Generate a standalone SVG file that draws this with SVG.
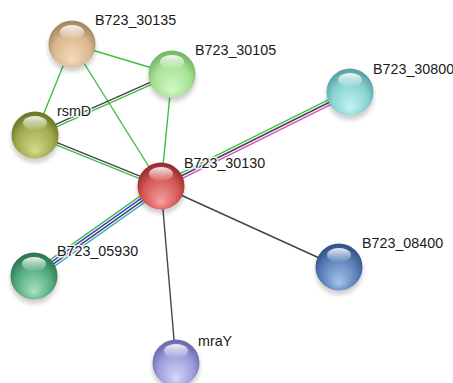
<svg xmlns="http://www.w3.org/2000/svg" width="453" height="383" viewBox="0 0 453 383">
<style>
.e{fill:none;stroke-width:1.4}
.g{stroke:#3fbf45}
.k{stroke:#454545}
.m{stroke:#d24ad2}
.b{stroke:#3a3ad8}
.c{stroke:#3fb0d0}
.lbl{font-family:"Liberation Sans",Arial,sans-serif;font-size:14.3px;fill:#1a1a1a;stroke:#ffffff;stroke-width:3;stroke-opacity:0.85;paint-order:stroke;stroke-linejoin:round}
.hl{fill:url(#hl)}
.sh{fill:#000;opacity:0.18;filter:url(#blur)}
</style>
<defs>
<filter id="blur" x="-50%" y="-50%" width="200%" height="200%"><feGaussianBlur stdDeviation="2"/></filter>
<linearGradient id="hl" x1="0" y1="0" x2="0" y2="1">
<stop offset="0" stop-color="#fff" stop-opacity="0.9"/>
<stop offset="1" stop-color="#fff" stop-opacity="0.05"/>
</linearGradient>
<radialGradient id="gTan" cx="50%" cy="60%" r="55%" fx="50%" fy="85%"><stop offset="0" stop-color="#f5dcbc"/><stop offset="0.7" stop-color="#d9b98f"/><stop offset="1" stop-color="#a88a62"/></radialGradient>
<radialGradient id="gLg" cx="50%" cy="60%" r="55%" fx="50%" fy="85%"><stop offset="0" stop-color="#d4f8c8"/><stop offset="0.7" stop-color="#a6e296"/><stop offset="1" stop-color="#78b868"/></radialGradient>
<radialGradient id="gOl" cx="50%" cy="60%" r="55%" fx="50%" fy="85%"><stop offset="0" stop-color="#d4dc88"/><stop offset="0.7" stop-color="#a2ab4e"/><stop offset="1" stop-color="#6e7a2a"/></radialGradient>
<radialGradient id="gRd" cx="50%" cy="60%" r="55%" fx="50%" fy="85%"><stop offset="0" stop-color="#f6a0a0"/><stop offset="0.7" stop-color="#d45656"/><stop offset="1" stop-color="#9c2e2e"/></radialGradient>
<radialGradient id="gCy" cx="50%" cy="60%" r="55%" fx="50%" fy="85%"><stop offset="0" stop-color="#c8f4f4"/><stop offset="0.7" stop-color="#88d2d2"/><stop offset="1" stop-color="#5aa4a6"/></radialGradient>
<radialGradient id="gGr" cx="50%" cy="60%" r="55%" fx="50%" fy="85%"><stop offset="0" stop-color="#a8e4c4"/><stop offset="0.7" stop-color="#52aa7c"/><stop offset="1" stop-color="#2e7a52"/></radialGradient>
<radialGradient id="gBl" cx="50%" cy="60%" r="55%" fx="50%" fy="85%"><stop offset="0" stop-color="#a8c4ec"/><stop offset="0.7" stop-color="#5a80b8"/><stop offset="1" stop-color="#34558a"/></radialGradient>
<radialGradient id="gLv" cx="50%" cy="60%" r="55%" fx="50%" fy="85%"><stop offset="0" stop-color="#d6d6fa"/><stop offset="0.7" stop-color="#9c9cdc"/><stop offset="1" stop-color="#6c6cb0"/></radialGradient>
</defs>
<rect width="453" height="383" fill="#ffffff"/>
<g id="edges">
<line class="e g" x1="72" y1="44" x2="172" y2="74"/>
<line class="e g" x1="72" y1="44" x2="35" y2="135"/>
<line class="e g" x1="72" y1="44" x2="161" y2="186"/>
<line class="e g" x1="172" y1="74" x2="161" y2="186"/>
<line class="e k" x1="34.47" y1="133.81" x2="171.47" y2="72.81"/>
<line class="e g" x1="35.53" y1="136.19" x2="172.53" y2="75.19"/>
<line class="e k" x1="35.49" y1="133.8" x2="161.49" y2="184.8"/>
<line class="e g" x1="34.51" y1="136.2" x2="160.51" y2="187.2"/>
<line class="e g" x1="159.84" y1="183.67" x2="348.84" y2="89.67"/>
<line class="e k" x1="161" y1="186" x2="350" y2="92"/>
<line class="e m" x1="162.16" y1="188.33" x2="351.16" y2="94.33"/>
<line class="e g" x1="158.75" y1="182.82" x2="31.75" y2="272.82"/>
<line class="e b" x1="160.25" y1="184.94" x2="33.25" y2="274.94"/>
<line class="e k" x1="161.75" y1="187.06" x2="34.75" y2="277.06"/>
<line class="e c" x1="163.25" y1="189.18" x2="36.25" y2="279.18"/>
<line class="e k" x1="161" y1="186" x2="339" y2="267"/>
<line class="e k" x1="161" y1="186" x2="176" y2="363"/>
</g>
<g id="n30135"><ellipse class="sh" cx="72" cy="48" rx="24" ry="24"/><circle cx="72" cy="44" r="23.5" fill="url(#gTan)"/><ellipse class="hl" cx="72" cy="32" rx="12" ry="7"/></g>
<g id="n30105"><ellipse class="sh" cx="172" cy="78" rx="24" ry="24"/><circle cx="172" cy="74" r="23.5" fill="url(#gLg)"/><ellipse class="hl" cx="172" cy="62" rx="12" ry="7"/></g>
<g id="nrsmD"><ellipse class="sh" cx="35" cy="139" rx="24" ry="24"/><circle cx="35" cy="135" r="23.5" fill="url(#gOl)"/><ellipse class="hl" cx="35" cy="123" rx="12" ry="7"/></g>
<g id="n30130"><ellipse class="sh" cx="161" cy="190" rx="24" ry="24"/><circle cx="161" cy="186" r="23.5" fill="url(#gRd)"/><ellipse class="hl" cx="161" cy="174" rx="12" ry="7"/></g>
<g id="n30800"><ellipse class="sh" cx="350" cy="96" rx="24" ry="24"/><circle cx="350" cy="92" r="23.5" fill="url(#gCy)"/><ellipse class="hl" cx="350" cy="80" rx="12" ry="7"/></g>
<g id="n05930"><ellipse class="sh" cx="34" cy="280" rx="24" ry="24"/><circle cx="34" cy="276" r="23.5" fill="url(#gGr)"/><ellipse class="hl" cx="34" cy="264" rx="12" ry="7"/></g>
<g id="n08400"><ellipse class="sh" cx="339" cy="271" rx="24" ry="24"/><circle cx="339" cy="267" r="23.5" fill="url(#gBl)"/><ellipse class="hl" cx="339" cy="255" rx="12" ry="7"/></g>
<g id="nmraY"><ellipse class="sh" cx="176" cy="367" rx="24" ry="24"/><circle cx="176" cy="363" r="23.5" fill="url(#gLv)"/><ellipse class="hl" cx="176" cy="351" rx="12" ry="7"/></g>
<g id="labels">
<text class="lbl" x="95" y="25">B723_30135</text>
<text class="lbl" x="195" y="55">B723_30105</text>
<text class="lbl" x="57" y="116">rsmD</text>
<text class="lbl" x="184" y="168">B723_30130</text>
<text class="lbl" x="373" y="74">B723_30800</text>
<text class="lbl" x="57" y="256">B723_05930</text>
<text class="lbl" x="362" y="248">B723_08400</text>
<text class="lbl" x="198" y="346">mraY</text>
</g>
</svg>
